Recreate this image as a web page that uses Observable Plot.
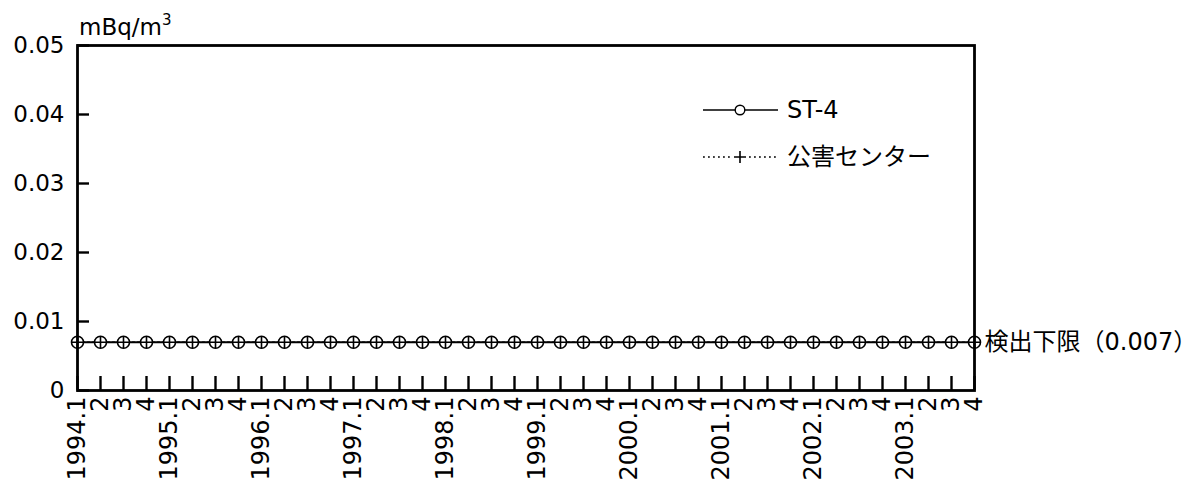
<!DOCTYPE html>
<html>
<head>
<meta charset="utf-8">
<script src="https://cdn.jsdelivr.net/npm/d3@7"></script>
<script src="https://cdn.jsdelivr.net/npm/@observablehq/plot@0.6"></script>
<style>
  html, body { margin: 0; padding: 0; background: #fff; }
  #wrap { position: relative; width: 1199px; height: 482px; font-family: "DejaVu Sans", "Noto Sans CJK JP", sans-serif; color: #000; }
  #unit { position: absolute; left: 79px; top: 16px; font-size: 23px; line-height: 1; }
  #unit sup { font-size: 15px; vertical-align: 10px; line-height: 0; }
  .leg { position: absolute; left: 703px; display: flex; align-items: center; font-size: 24px; line-height: 1; }
  .leg svg { display: block; margin-right: 9px; }
</style>
</head>
<body>
<div id="wrap"></div>
<script>
// ---- data ----
const periods = [
  "1994.1","1994.2","1994.3","1994.4",
  "1995.1","1995.2","1995.3","1995.4",
  "1996.1","1996.2","1996.3","1996.4",
  "1997.1","1997.2","1997.3","1997.4",
  "1998.1","1998.2","1998.3","1998.4",
  "1999.1","1999.2","1999.3","1999.4",
  "2000.1","2000.2","2000.3","2000.4",
  "2001.1","2001.2","2001.3","2001.4",
  "2002.1","2002.2","2002.3","2002.4",
  "2003.1","2003.2","2003.3","2003.4"
];
const periodLabels = [
  "1994.1","2","3","4",
  "1995.1","2","3","4",
  "1996.1","2","3","4",
  "1997.1","2","3","4",
  "1998.1","2","3","4",
  "1999.1","2","3","4",
  "2000.1","2","3","4",
  "2001.1","2","3","4",
  "2002.1","2","3","4",
  "2003.1","2","3","4"
];
// ST-4 (values below detection limit plotted at 0.007)
const st4Values = [
  0.007,0.007,0.007,0.007, 0.007,0.007,0.007,0.007,
  0.007,0.007,0.007,0.007, 0.007,0.007,0.007,0.007,
  0.007,0.007,0.007,0.007, 0.007,0.007,0.007,0.007,
  0.007,0.007,0.007,0.007, 0.007,0.007,0.007,0.007,
  0.007,0.007,0.007,0.007, 0.007,0.007,0.007,0.007
];
// 公害センター
const centerValues = [
  0.007,0.007,0.007,0.007, 0.007,0.007,0.007,0.007,
  0.007,0.007,0.007,0.007, 0.007,0.007,0.007,0.007,
  0.007,0.007,0.007,0.007, 0.007,0.007,0.007,0.007,
  0.007,0.007,0.007,0.007, 0.007,0.007,0.007,0.007,
  0.007,0.007,0.007,0.007, 0.007,0.007,0.007,0.007
];
const seriesNames = ["ST-4", "公害センター"];
const yTicks = [0, 0.01, 0.02, 0.03, 0.04, 0.05];
const yTickLabels = ["0", "0.01", "0.02", "0.03", "0.04", "0.05"];
const unitLabel = "mBq/m";
const unitSup = "3";
const detectionLabel = "検出下限（0.007）";

// ---- tables ----
const st4Data = periods.map((p, i) => ({period: p, value: st4Values[i]}));
const centerData = periods.map((p, i) => ({period: p, value: centerValues[i]}));
const labelOf = new Map(periods.map((p, i) => [p, periodLabels[i]]));
const lastPoint = [st4Data[st4Data.length - 1]];

// ---- layout ----
const W = 1199, H = 482, ML = 77, MR = 225, MT = 45, MB = 92;
const innerW = W - ML - MR, innerH = H - MT - MB;
const xTickLen = 14, yTickLen = 12;

const font = "'DejaVu Sans','Noto Sans CJK JP',sans-serif";

const plot = Plot.plot({
  width: W,
  height: H,
  marginLeft: ML,
  marginRight: MR,
  marginTop: MT,
  marginBottom: MB,
  style: {fontFamily: font, fontSize: "23px", background: "white", color: "black", overflow: "visible"},
  x: {type: "point", domain: periods, padding: 0, label: null},
  y: {domain: [0, 0.05], label: null},
  marks: [
    Plot.axisY(yTicks, {tickSize: 0, tickPadding: 13, tickFormat: d => yTickLabels[yTicks.indexOf(d)], fontSize: 23, label: null}),
    Plot.axisX({tickSize: 0, tickRotate: -90, tickPadding: 6, tickFormat: d => labelOf.get(d), fontSize: 24, label: null}),
    Plot.line(st4Data, {x: "period", y: "value", stroke: "black", strokeWidth: 1.9}),
    Plot.line(centerData, {x: "period", y: "value", stroke: "black", strokeWidth: 1.6, strokeDasharray: "2,3"}),
    Plot.dot(st4Data, {x: "period", y: "value", r: 6, stroke: "black", fill: "white", strokeWidth: 1.6}),
    Plot.dot(centerData, {x: "period", y: "value", symbol: "plus", r: 3.95, stroke: "black", strokeWidth: 1.6}),
    Plot.text(lastPoint, {x: "period", y: "value", text: () => detectionLabel, textAnchor: "start", dx: 10, fontSize: 24}),
    Plot.frame({stroke: "black", strokeWidth: 2.8}),
    // inward tick marks
    Plot.ruleY(yTicks, {y: d => d, insetRight: innerW - yTickLen, stroke: "black", strokeWidth: 2.4}),
    Plot.ruleX(periods, {x: d => d, insetTop: innerH - xTickLen, stroke: "black", strokeWidth: 2.4})
  ]
});

const wrap = document.getElementById("wrap");
wrap.appendChild(plot);

// unit label
const unit = document.createElement("div");
unit.id = "unit";
unit.innerHTML = `${unitLabel}<sup>${unitSup}</sup>`;
wrap.appendChild(unit);

// legend
function legendRow(top, name, dashed, symbol) {
  const row = document.createElement("div");
  row.className = "leg";
  row.style.top = top + "px";
  const w = 75, h = 16, cy = 8, cx = 37;
  const sym = symbol === "circle"
    ? `<circle cx="${cx}" cy="${cy}" r="4.8" fill="white" stroke="black" stroke-width="1.4"/>`
    : `<path d="M${cx - 6},${cy}H${cx + 6}M${cx},${cy - 6}V${cy + 6}" stroke="black" stroke-width="1.6"/>`;
  const line = dashed
    ? `<line x1="0" x2="${cx - 8}" y1="${cy}" y2="${cy}" stroke="black" stroke-width="1.6" stroke-dasharray="1.8,3.2"/><line x1="${cx + 9}" x2="${w}" y1="${cy}" y2="${cy}" stroke="black" stroke-width="1.6" stroke-dasharray="1.8,3.2"/>`
    : `<line x1="0" x2="${w}" y1="${cy}" y2="${cy}" stroke="black" stroke-width="1.6"/>`;
  row.innerHTML = `<svg width="${w}" height="${h}">${line}${sym}</svg><span>${name}</span>`;
  wrap.appendChild(row);
}
legendRow(98, seriesNames[0], false, "circle");
legendRow(145, seriesNames[1], true, "plus");
</script>
</body>
</html>
